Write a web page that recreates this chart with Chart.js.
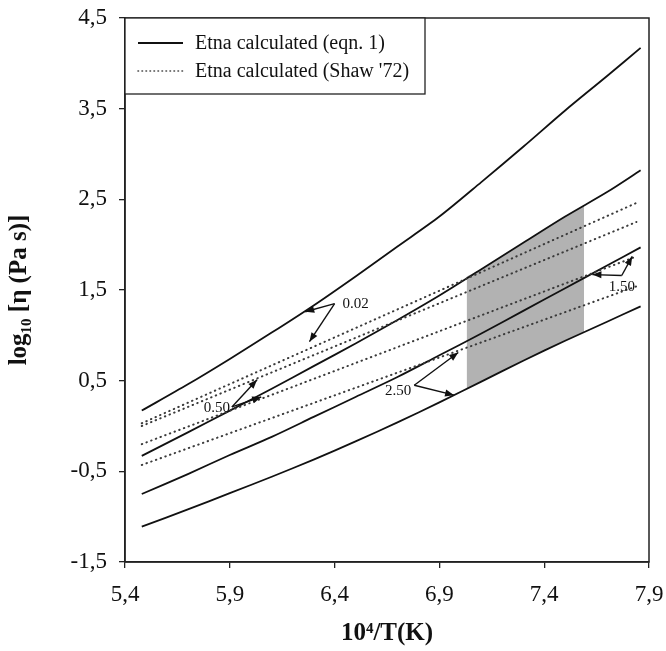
<!DOCTYPE html>
<html>
<head>
<meta charset="utf-8">
<script src="https://cdn.jsdelivr.net/npm/chart.js@4.4.1/dist/chart.umd.min.js"></script>
<style>
  html, body { margin: 0; padding: 0; background: #fff; }
  #wrap { width: 666px; height: 651px; }
</style>
</head>
<body>
<div id="wrap"><canvas id="etnaChart" width="666" height="651"></canvas></div>
<script>
// x = 10^4/T(K)
const xCalc = [5.48, 5.7, 5.9, 6.1, 6.3, 6.5, 6.7, 6.9, 7.1, 7.3, 7.5, 7.7, 7.86];
// log10 viscosity from eqn. 1, one curve per water content
const calc002 = [0.17, 0.46, 0.74, 1.03, 1.33, 1.65, 1.98, 2.31, 2.69, 3.08, 3.48, 3.86, 4.17];
const calc050 = [-0.33, -0.07, 0.17, 0.41, 0.66, 0.91, 1.17, 1.44, 1.73, 2.02, 2.31, 2.58, 2.82];
const calc150 = [-0.75, -0.53, -0.32, -0.12, 0.10, 0.32, 0.54, 0.78, 1.02, 1.27, 1.52, 1.77, 1.97];
const calc250 = [-1.11, -0.92, -0.74, -0.56, -0.37, -0.17, 0.04, 0.26, 0.49, 0.72, 0.94, 1.15, 1.32];

// Shaw '72 lines are straight, so just the ends
const xShaw = [5.48, 7.84];
const shaw002 = [0.03, 2.46];
const shaw050 = [0.0, 2.25];
const shaw150 = [-0.2, 1.87];
const shaw250 = [-0.43, 1.54];

// grey band between the 0.50 and 2.50 curves
const xBand = [7.03, 7.1, 7.3, 7.5, 7.59];
const bandTop = [1.65, 1.73, 2.02, 2.31, 2.43];
const bandBottom = [0.41, 0.49, 0.72, 0.94, 1.04];

const xTicks = [5.4, 5.9, 6.4, 6.9, 7.4, 7.9];
const yTicks = [-1.5, -0.5, 0.5, 1.5, 2.5, 3.5, 4.5];

const legendLabels = ['Etna calculated (eqn. 1)', "Etna calculated (Shaw '72)"];

// water content call-outs: vertex, arrow tips, text offset (px)
const notes = [
  { text: '0.02', at: [6.40, 1.35], tips: [[6.26, 1.26], [6.28, 0.93]], dx: 8, dy: 0, align: 'left' },
  { text: '0.50', at: [5.91, 0.21], tips: [[6.03, 0.51], [6.05, 0.32]], dx: -2, dy: 1, align: 'right' },
  { text: '2.50', at: [6.78, 0.45], tips: [[6.99, 0.81], [6.97, 0.34]], dx: -3, dy: 6, align: 'right' },
  { text: '1.50', at: [7.77, 1.66], tips: [[7.63, 1.67], [7.82, 1.87]], dx: 0, dy: 12, align: 'center' }
];

const pts = (xs, ys) => xs.map((x, i) => ({ x: x, y: ys[i] }));

const solid = (data) => ({
  data: data, borderColor: '#111', borderWidth: 1.8, pointRadius: 0, tension: 0.3, fill: false
});
const dotted = (data) => ({
  data: data, borderColor: '#3a3a3a', borderWidth: 2, borderDash: [0.5, 4.5], borderCapStyle: 'round',
  pointRadius: 0, fill: false
});

function arrow(ctx, x0, y0, x1, y1) {
  ctx.beginPath();
  ctx.moveTo(x0, y0);
  ctx.lineTo(x1, y1);
  ctx.stroke();
  const ang = Math.atan2(y1 - y0, x1 - x0), len = 9, w = 3.5;
  const bx = x1 - len * Math.cos(ang), by = y1 - len * Math.sin(ang);
  ctx.beginPath();
  ctx.moveTo(x1, y1);
  ctx.lineTo(bx + w * Math.sin(ang), by - w * Math.cos(ang));
  ctx.lineTo(bx - w * Math.sin(ang), by + w * Math.cos(ang));
  ctx.closePath();
  ctx.fill();
}

// frame, legend box and arrows
const extras = {
  id: 'extras',
  afterDraw(chart) {
    const { ctx, chartArea: a, scales: { x, y } } = chart;
    ctx.save();
    ctx.strokeStyle = '#222';
    ctx.lineWidth = 1.5;
    ctx.strokeRect(a.left, a.top, a.right - a.left, a.bottom - a.top);

    // legend
    const lw = 300, lh = 76;
    ctx.fillStyle = '#fff';
    ctx.fillRect(a.left, a.top, lw, lh);
    ctx.lineWidth = 1.3;
    ctx.strokeRect(a.left, a.top, lw, lh);
    ctx.font = '20px "Liberation Serif", serif';
    ctx.fillStyle = '#111';
    ctx.textBaseline = 'middle';
    ctx.textAlign = 'left';
    [25, 53].forEach((dy, i) => {
      ctx.beginPath();
      ctx.lineWidth = i === 0 ? 1.8 : 1.6;
      ctx.strokeStyle = i === 0 ? '#111' : '#444';
      ctx.setLineDash(i === 0 ? [] : [0.5, 3.5]);
      ctx.lineCap = i === 0 ? 'butt' : 'round';
      ctx.moveTo(a.left + 13, a.top + dy);
      ctx.lineTo(a.left + 58, a.top + dy);
      ctx.stroke();
      ctx.fillText(legendLabels[i], a.left + 70, a.top + dy + 1);
    });
    ctx.setLineDash([]);
    ctx.lineCap = 'butt';

    // call-outs
    ctx.strokeStyle = '#111';
    ctx.fillStyle = '#111';
    ctx.lineWidth = 1.4;
    ctx.font = '15px "Liberation Serif", serif';
    notes.forEach(n => {
      const vx = x.getPixelForValue(n.at[0]), vy = y.getPixelForValue(n.at[1]);
      n.tips.forEach(t => arrow(ctx, vx, vy, x.getPixelForValue(t[0]), y.getPixelForValue(t[1])));
      ctx.textAlign = n.align;
      ctx.fillText(n.text, vx + n.dx, vy + n.dy);
    });
    ctx.restore();
  }
};

const fmt = v => Number(v).toFixed(1).replace('.', ',');

new Chart(document.getElementById('etnaChart'), {
  type: 'line',
  data: {
    datasets: [
      { data: pts(xBand, bandTop), borderColor: 'transparent', borderWidth: 0, pointRadius: 0,
        backgroundColor: '#b2b2b2', fill: '+1' },
      { data: pts(xBand, bandBottom), borderColor: 'transparent', borderWidth: 0, pointRadius: 0, fill: false },
      dotted(pts(xShaw, shaw002)),
      dotted(pts(xShaw, shaw050)),
      dotted(pts(xShaw, shaw150)),
      dotted(pts(xShaw, shaw250)),
      solid(pts(xCalc, calc002)),
      solid(pts(xCalc, calc050)),
      solid(pts(xCalc, calc150)),
      solid(pts(xCalc, calc250))
    ]
  },
  options: {
    responsive: false,
    animation: false,
    layout: { padding: { left: 0, top: 18, right: 17, bottom: 0 } },
    plugins: {
      legend: { display: false },
      tooltip: { enabled: false },
      filler: { drawTime: 'beforeDatasetsDraw' }
    },
    scales: {
      x: {
        type: 'linear',
        min: 5.4,
        max: 7.9,
        afterBuildTicks: s => { s.ticks = xTicks.map(v => ({ value: v })); },
        afterFit: s => { s.height = 89; s.paddingLeft = 0; s.paddingRight = 0; },
        border: { color: '#222', width: 1.5 },
        grid: { drawOnChartArea: false, drawTicks: true, tickLength: 6, color: '#222', lineWidth: 1.3 },
        ticks: {
          callback: v => fmt(v),
          color: '#111',
          padding: 13,
          maxRotation: 0,
          font: { family: '"Liberation Serif", serif', size: 23 }
        },
        title: {
          display: true,
          text: '10\u2074/T(K)',
          color: '#111',
          padding: { top: 0, bottom: 2 },
          font: { family: '"Liberation Serif", serif', size: 25, weight: 'bold' }
        }
      },
      y: {
        min: -1.5,
        max: 4.5,
        afterBuildTicks: s => { s.ticks = yTicks.map(v => ({ value: v })); },
        afterFit: s => { s.width = 125; s.paddingTop = 0; s.paddingBottom = 0; },
        border: { color: '#222', width: 1.5 },
        grid: { drawOnChartArea: false, drawTicks: true, tickLength: 6, color: '#222', lineWidth: 1.3 },
        ticks: {
          callback: v => fmt(v),
          color: '#111',
          padding: 12,
          font: { family: '"Liberation Serif", serif', size: 23 }
        },
        title: {
          display: true,
          text: 'log\u2081\u2080 [\u03b7 (Pa s)]',
          color: '#111',
          padding: { top: 5, bottom: 0 },
          font: { family: '"Liberation Serif", serif', size: 25, weight: 'bold' }
        }
      }
    }
  },
  plugins: [extras]
});
</script>
</body>
</html>
